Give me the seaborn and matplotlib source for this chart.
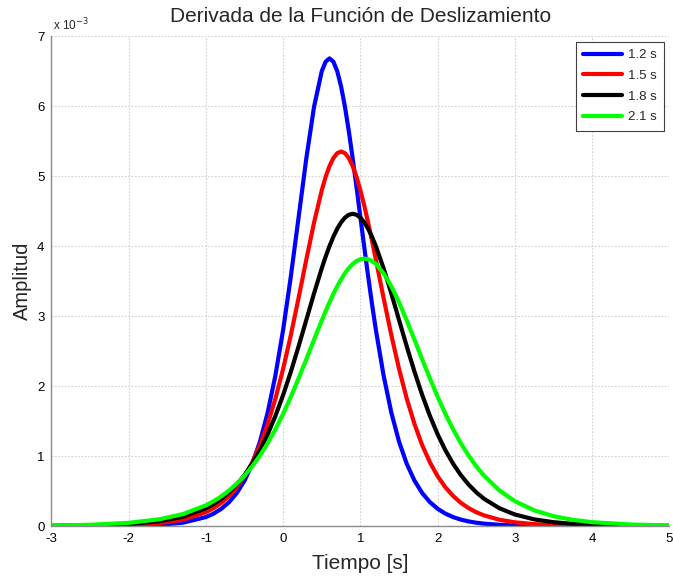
import matplotlib
matplotlib.use("Agg")
from matplotlib import pyplot as plt
import pandas as pd
import seaborn as sns

# tiempo [s], same samples for the four curves
tiempo = [-3.0, -2.5, -2.0, -1.6, -1.3,
          -1.0, -0.9, -0.8, -0.7, -0.6, -0.5, -0.4, -0.3, -0.2, -0.1,
          0.0, 0.1, 0.2, 0.3, 0.4,
          0.5, 0.55, 0.6, 0.65, 0.7, 0.75, 0.8, 0.85, 0.9, 0.95,
          1.0, 1.05, 1.1, 1.15, 1.2,
          1.3, 1.4, 1.5, 1.6, 1.7, 1.8, 1.9,
          2.0, 2.1, 2.2, 2.3, 2.4, 2.5, 2.6,
          2.8, 3.0, 3.25, 3.5, 3.75, 4.0, 4.5, 5.0]

# amplitudes in units of 1e-3
amp_12 = [0.0002, 0.0009, 0.0046, 0.0174, 0.0473,
          0.1278, 0.1776, 0.2466, 0.3416, 0.4719, 0.6494, 0.8887, 1.2071, 1.6232, 2.1532,
          2.8054, 3.5706, 4.4112, 5.2535, 5.9895,
          6.4978, 6.6338, 6.68, 6.6338, 6.4978, 6.2793, 5.9895, 5.6424, 5.2535, 4.8383,
          4.4112, 3.9852, 3.5706, 3.1755, 2.8054,
          2.1532, 1.6232, 1.2071, 0.8887, 0.6494, 0.4719, 0.3416,
          0.2466, 0.1776, 0.1278, 0.0918, 0.0659, 0.0473, 0.0339,
          0.0174, 0.0090, 0.0039, 0.0017, 0.0007, 0.0003, 0.0001, 0.0]

amp_15 = [0.0010, 0.0037, 0.0140, 0.0405, 0.0897,
          0.1975, 0.2564, 0.3323, 0.4297, 0.5540, 0.7118, 0.9100, 1.1564, 1.4582, 1.8212,
          2.2468, 2.7309, 3.2595, 3.8070, 4.3353,
          4.7970, 4.9869, 5.1416, 5.2560, 5.3263, 5.35, 5.3263, 5.2560, 5.1416, 4.9869,
          4.7970, 4.5777, 4.3353, 4.0763, 3.8070,
          3.2595, 2.7309, 2.2468, 1.8212, 1.4582, 1.1564, 0.9100,
          0.7118, 0.5540, 0.4297, 0.3323, 0.2564, 0.1975, 0.1519,
          0.0897, 0.0528, 0.0272, 0.0140, 0.0072, 0.0037, 0.0010, 0.0003]

amp_18 = [0.0031, 0.0093, 0.0283, 0.0684, 0.1323,
          0.2541, 0.3151, 0.3900, 0.4817, 0.5934, 0.7285, 0.8907, 1.0838, 1.3107, 1.5737,
          1.8731, 2.2063, 2.5673, 2.9452, 3.3241,
          3.6832, 3.8481, 3.9990, 4.1328, 4.2468, 4.3384, 4.4054, 4.4463, 4.46, 4.4463,
          4.4054, 4.3384, 4.2468, 4.1328, 3.9990,
          3.6832, 3.3241, 2.9452, 2.5673, 2.2063, 1.8731, 1.5737,
          1.3107, 1.0838, 0.8907, 0.7285, 0.5934, 0.4817, 0.3900,
          0.2541, 0.1647, 0.0952, 0.0549, 0.0316, 0.0181, 0.0060, 0.0020]

amp_21 = [0.0068, 0.0176, 0.0456, 0.0969, 0.1700,
          0.2958, 0.3549, 0.4251, 0.5082, 0.6060, 0.7206, 0.8540, 1.0079, 1.1838, 1.3826,
          1.6043, 1.8474, 2.1086, 2.3829, 2.6625,
          2.9375, 3.0697, 3.1961, 3.3152, 3.4251, 3.5244, 3.6114, 3.6847, 3.7431, 3.7856,
          3.8114, 3.82, 3.8114, 3.7856, 3.7431,
          3.6114, 3.4251, 3.1961, 2.9375, 2.6625, 2.3829, 2.1086,
          1.8474, 1.6043, 1.3826, 1.1838, 1.0079, 0.8540, 0.7206,
          0.5082, 0.3549, 0.2245, 0.1410, 0.0882, 0.0550, 0.0213, 0.0082]

etiquetas = ["1.2 s", "1.5 s", "1.8 s", "2.1 s"]
colores = ["#0000ff", "#ff0000", "#000000", "#00ff00"]
xticks = [-3, -2, -1, 0, 1, 2, 3, 4, 5]
yticks = [0, 1, 2, 3, 4, 5, 6, 7]

# long format for seaborn
series = [amp_12, amp_15, amp_18, amp_21]
frames = []
for lab, amp in zip(etiquetas, series):
    frames.append(pd.DataFrame({"t": tiempo, "amp": amp, "serie": lab}))
df = pd.concat(frames, ignore_index=True)

sns.set_style("white")
plt.rcParams["font.family"] = ["Liberation Sans", "DejaVu Sans"]

fig = plt.figure(figsize=(6.73, 5.79), dpi=100)
ax = fig.add_axes([0.0765, 0.0915, 0.918, 0.8463])

sns.lineplot(data=df, x="t", y="amp", hue="serie", hue_order=etiquetas,
             palette=dict(zip(etiquetas, colores)), sort=False,
             linewidth=3, solid_joinstyle="round", solid_capstyle="round", ax=ax)

ax.set_xlim(-3, 5)
ax.set_ylim(0, 7)
ax.set_xticks(xticks)
ax.set_yticks(yticks)
ax.set_xticklabels([str(v) for v in xticks], fontsize=9.5)
ax.set_yticklabels([str(v) for v in yticks], fontsize=9.5)
ax.grid(True, linestyle=(0, (1.5, 1.5)), color="#d2d2d2", linewidth=0.8)
ax.set_axisbelow(True)

for s in ["top", "right"]:
    ax.spines[s].set_visible(False)
for s in ["left", "bottom"]:
    ax.spines[s].set_color("#8c8c8c")
    ax.spines[s].set_linewidth(1.0)
ax.tick_params(direction="in", length=4, color="#8c8c8c", labelcolor="black", pad=5)

ax.set_title("Derivada de la Función de Deslizamiento", fontsize=15, pad=10)
ax.set_xlabel("Tiempo [s]", fontsize=15)
ax.set_ylabel("Amplitud", fontsize=14.5)
ax.xaxis.set_label_coords(0.5, -0.058)
ax.yaxis.set_label_coords(-0.032, 0.5)
ax.text(0.003, 1.006, r"x 10$^{-3}$", transform=ax.transAxes, fontsize=8.5,
        ha="left", va="bottom")

leg = ax.legend(loc="upper right", bbox_to_anchor=(0.992, 0.988), borderaxespad=0,
                fontsize=9.5, handlelength=3.0, labelspacing=0.64, borderpad=0.55,
                handletextpad=0.45, fancybox=False, framealpha=1,
                edgecolor="#404040", title=None)
leg.get_frame().set_linewidth(0.8)

fig.savefig("out.png", dpi=100)
